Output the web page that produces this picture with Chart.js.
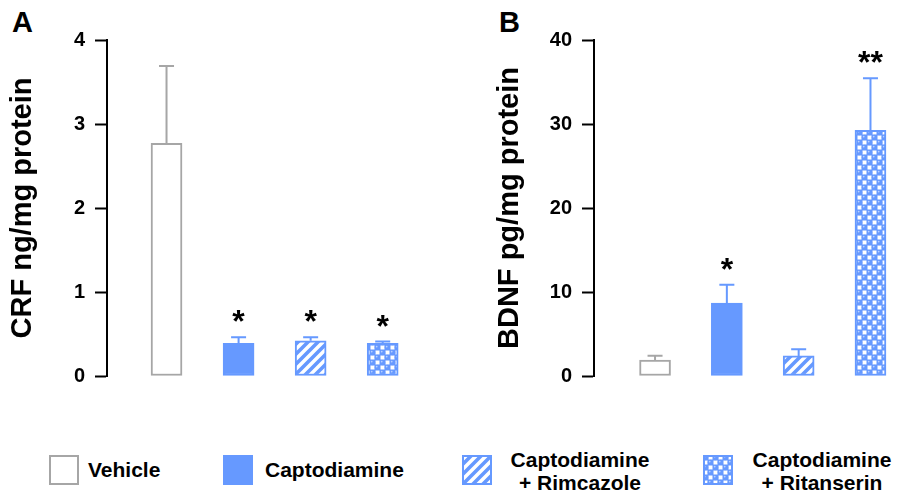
<!DOCTYPE html>
<html>
<head>
<meta charset="utf-8">
<script src="https://cdn.jsdelivr.net/npm/chart.js@4.4.1/dist/chart.umd.min.js"></script>
<style>
  body { margin: 0; background: #fff; font-family: "Liberation Sans", Arial, sans-serif; }
  #wrap { position: relative; width: 897px; height: 499px; overflow: hidden; background: #fff; }
  #wrap canvas.chart { position: absolute; top: 0; }
  .panel { position: absolute; top: 6px; font-size: 29px; font-weight: bold; color: #000; }
  .leg { position: absolute; font-size: 21px; font-weight: bold; line-height: 23px; color: #000; white-space: pre-line; }
  .sw { position: absolute; top: 455px; }
</style>
</head>
<body>
<div id="wrap">
  <div class="panel" style="left:12px">A</div>
  <div class="panel" style="left:499px">B</div>
  <canvas id="crf" class="chart" width="410" height="400" style="left:0"></canvas>
  <canvas id="bdnf" class="chart" width="410" height="400" style="left:487px"></canvas>
  <div id="legend"></div>
</div>
<script>
// groups (same order in both panels)
const groups = ['Vehicle', 'Captodiamine', 'Captodiamine\n+ Rimcazole', 'Captodiamine\n+ Ritanserin'];

// A: CRF ng/mg protein
const crfMean = [2.77, 0.39, 0.42, 0.39];
const crfSem  = [0.92, 0.07, 0.04, 0.02];
const crfSig  = ['', '*', '*', '*'];
const crfTicks = [0, 1, 2, 3, 4];

// B: BDNF pg/mg protein
const bdnfMean = [1.9, 8.67, 2.39, 29.24];
const bdnfSem  = [0.5, 2.2, 0.8, 6.2];
const bdnfSig  = ['', '*', '', '**'];
const bdnfTicks = [0, 10, 20, 30, 40];

const FONT = '"Liberation Sans", Arial, sans-serif';
const BLUE = '#6699ff';
const GREY = '#a6a6a6';

// hatch fills
function stripeFill() {
    const c = document.createElement('canvas');
    c.width = c.height = 10;
    const g = c.getContext('2d');
    g.fillStyle = '#fff';
    g.fillRect(0, 0, 10, 10);
    g.strokeStyle = BLUE;
    g.lineWidth = 3.6;
    g.beginPath();
    g.moveTo(-5, 5); g.lineTo(5, -5);
    g.moveTo(0, 10); g.lineTo(10, 0);
    g.moveTo(5, 15); g.lineTo(15, 5);
    g.stroke();
    return g.createPattern(c, 'repeat');
}

function dotFill() {
    const c = document.createElement('canvas');
    c.width = c.height = 10;
    const g = c.getContext('2d');
    g.fillStyle = BLUE;
    g.fillRect(0, 0, 10, 10);
    g.fillStyle = '#fff';
    g.fillRect(5.5, 0.5, 4, 4);
    g.fillRect(0.5, 5.5, 4, 4);
    [[2.5, 2.5], [7.5, 7.5]].forEach(([cx, cy]) => {
        g.fillStyle = BLUE;
        g.beginPath(); g.arc(cx, cy, 2.8, 0, Math.PI * 2); g.fill();
        g.fillStyle = '#b8cfff';
        g.beginPath(); g.arc(cx - 0.8, cy - 0.9, 0.9, 0, Math.PI * 2); g.fill();
    });
    return g.createPattern(c, 'repeat');
}

const fills = ['#ffffff', BLUE, stripeFill(), dotFill()];
const borders = [GREY, BLUE, BLUE, BLUE];

// upward SEM bars + significance stars
const errorBars = {
    id: 'errorBars',
    afterDatasetsDraw(chart, args, opts) {
        const ctx = chart.ctx;
        const y = chart.scales.y;
        const ds = chart.data.datasets[0];
        chart.getDatasetMeta(0).data.forEach((bar, i) => {
            const yTop = y.getPixelForValue(ds.data[i].y + opts.sems[i]);
            ctx.save();
            ctx.strokeStyle = opts.colors[i];
            ctx.lineWidth = 2;
            ctx.beginPath();
            ctx.moveTo(bar.x, bar.y);
            ctx.lineTo(bar.x, yTop);
            ctx.moveTo(bar.x - 7.5, yTop);
            ctx.lineTo(bar.x + 7.5, yTop);
            ctx.stroke();
            if (opts.sigs[i]) {
                ctx.fillStyle = '#000';
                ctx.font = 'bold 32px ' + FONT;
                ctx.textAlign = 'center';
                ctx.textBaseline = 'alphabetic';
                ctx.fillText(opts.sigs[i], bar.x, yTop - 5);
            }
            ctx.restore();
        });
    }
};

function makeChart(id, means, sems, sigs, ticks, title, xMin, xMax) {
    return new Chart(document.getElementById(id), {
        type: 'bar',
        data: {
            datasets: [{
                data: means.map((v, i) => ({ x: i + 1, y: v })),
                backgroundColor: fills,
                borderColor: borders,
                borderWidth: 2,
                borderSkipped: false,
                barThickness: 31
            }]
        },
        options: {
            responsive: false,
            animation: false,
            devicePixelRatio: 1,
            layout: { padding: { top: 40, bottom: 24, left: 0, right: 10 } },
            plugins: {
                legend: { display: false },
                tooltip: { enabled: false },
                errorBars: { sems: sems, sigs: sigs, colors: borders }
            },
            scales: {
                x: { type: 'linear', display: false, offset: false, min: xMin, max: xMax },
                y: {
                    min: ticks[0],
                    max: ticks[ticks.length - 1],
                    afterFit: s => { s.width = 107; },
                    ticks: { stepSize: ticks[1] - ticks[0], color: '#000', padding: 10, font: { family: FONT, size: 20, weight: 'bold' } },
                    grid: { drawOnChartArea: false, tickLength: 12, tickColor: '#000', tickWidth: 2 },
                    border: { color: '#000', width: 2 },
                    title: { display: true, text: title, color: '#000', padding: { top: 6 }, font: { family: FONT, size: 29, weight: 'bold' } }
                }
            }
        },
        plugins: [errorBars]
    });
}

makeChart('crf', crfMean, crfSem, crfSig, crfTicks, 'CRF ng/mg protein', 0.174, 4.24);
makeChart('bdnf', bdnfMean, bdnfSem, bdnfSig, bdnfTicks, 'BDNF pg/mg protein', 0.15, 4.23);

// legend
const swLeft = [49, 223, 462, 703];
const txtLeft = [88, 265, 500, 742];
const txtTop = [458, 458, 448, 448];
const legend = document.getElementById('legend');
groups.forEach((name, i) => {
    const c = document.createElement('canvas');
    c.width = 30; c.height = 30;
    c.className = 'sw';
    c.style.left = swLeft[i] + 'px';
    const g = c.getContext('2d');
    g.fillStyle = fills[i];
    g.fillRect(0, 0, 30, 30);
    g.strokeStyle = borders[i];
    g.lineWidth = 2;
    g.strokeRect(1, 1, 28, 28);
    legend.appendChild(c);

    const t = document.createElement('div');
    t.className = 'leg';
    t.textContent = name;
    t.style.left = txtLeft[i] + 'px';
    t.style.top = txtTop[i] + 'px';
    if (name.includes('\n')) { t.style.width = '160px'; t.style.textAlign = 'center'; }
    legend.appendChild(t);
});
</script>
</body>
</html>
